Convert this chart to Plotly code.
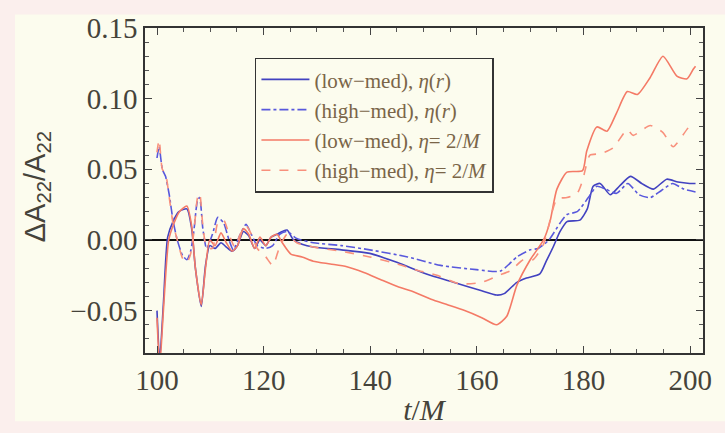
import plotly.graph_objects as go

# ---------------- data ----------------
t_bs = [100, 100.5, 101.2, 102.0, 103.0, 104.1, 105.6, 106.5, 107.2, 108.3, 109.1, 109.9, 110.9, 112.0, 113.0,
        114.1, 115.1, 116.2, 117.2, 118.3, 119.3, 120.4, 121.4, 122.5, 123.5, 124.4, 125.6, 127.2, 129.3, 134.6,
        139.9, 145.1, 150.4, 155.6, 160.9, 163.7, 165.1, 167.5, 169.3, 171.8, 173.0, 174.3, 175.6, 176.9, 179.3,
        180.7, 181.8, 183.1, 185.0, 186.7, 188.8, 190.9, 193.1, 195.6, 197.7, 199.9, 201.0]
v_bs = [-0.05, -0.085, -0.045, 0.002, 0.013, 0.02, 0.022, 0.008, -0.02, -0.047, -0.018, -0.004, -0.006, -0.002,
        -0.005, -0.008, -0.004, 0.006, 0.003, -0.006, 0.0, -0.004, 0.002, 0.004, 0.006, 0.007, 0.0, -0.003,
        -0.005, -0.007, -0.0095, -0.016, -0.024, -0.03, -0.036, -0.039, -0.038, -0.03, -0.027, -0.024, -0.015,
        -0.005, 0.006, 0.013, 0.014, 0.022, 0.038, 0.040, 0.032, 0.038, 0.045, 0.040, 0.036, 0.043, 0.041,
        0.040, 0.040]

t_bd = [100, 100.4, 101.0, 101.6, 102.3, 103.0, 103.8, 104.8, 105.6, 106.3, 106.9, 107.6, 108.0, 108.6, 109.3,
        110.4, 111.4, 112.5, 113.5, 114.3, 115.6, 116.7, 117.7, 118.8, 120.4, 121.7, 123.0, 124.4, 126.2, 129.3,
        134.6, 139.9, 147.0, 153.2, 159.9, 164.4, 167.5, 170.0, 171.5, 173.5, 175.6, 176.9, 178.8, 180.9, 182.5,
        184.1, 186.2, 188.3, 190.4, 192.5, 194.6, 196.7, 198.8, 201.0]
v_bd = [0.058, 0.066, 0.05, 0.045, 0.032, 0.014, 0.0, -0.011, -0.014, -0.008, 0.006, 0.028, 0.03, 0.008, -0.006,
        0.004, 0.016, 0.012, 0.0, -0.007, 0.004, 0.011, 0.004, -0.004, -0.006, -0.004, 0.004, 0.006, 0.001,
        -0.002, -0.004, -0.007, -0.012, -0.018, -0.021, -0.022, -0.012, -0.007, -0.006, 0.0, 0.012, 0.018,
        0.02, 0.03, 0.038, 0.036, 0.033, 0.04, 0.032, 0.03, 0.035, 0.04, 0.036, 0.034]

t_rs = [100, 100.5, 101.2, 102.2, 103.2, 104.2, 105.6, 106.5, 107.2, 108.3, 109.1, 109.9, 110.9, 112.0, 113.0,
        114.1, 115.1, 116.2, 117.2, 118.3, 119.3, 120.4, 121.4, 122.5, 123.5, 125.1, 127.2, 129.3, 132.5, 135.6,
        138.8, 141.9, 145.1, 148.3, 151.4, 154.6, 157.7, 160.9, 163.7, 165.6, 167.5, 170.0, 172.5, 173.7, 175.0,
        176.9, 179.8, 180.6, 182.5, 184.4, 186.2, 188.2, 190.1, 192.5, 194.9, 197.5, 199.4, 200.6, 201.0]
v_rs = [-0.055, -0.09, -0.05, 0.0, 0.012, 0.02, 0.024, 0.01, -0.02, -0.046, -0.02, 0.0, -0.004, 0.005, -0.002,
        -0.008, -0.004, 0.008, 0.004, -0.006, 0.002, -0.004, 0.002, 0.004, -0.002, -0.01, -0.012, -0.015,
        -0.017, -0.019, -0.023, -0.028, -0.033, -0.037, -0.042, -0.046, -0.05, -0.055, -0.06, -0.054, -0.032,
        -0.014, 0.0, 0.013, 0.036, 0.048, 0.049, 0.063, 0.08, 0.077, 0.09, 0.105, 0.103, 0.115, 0.13, 0.116,
        0.114, 0.121, 0.123]

t_rd = [100, 100.4, 101.0, 101.6, 102.3, 103.0, 103.8, 104.8, 105.6, 106.3, 106.9, 107.6, 108.0, 108.6, 109.3,
        110.4, 111.4, 112.5, 113.5, 114.6, 115.6, 116.7, 117.7, 118.8, 120.4, 121.7, 123.0, 124.4, 126.2, 129.3,
        134.6, 139.9, 145.1, 148.3, 152.5, 156.7, 160.9, 164.1, 166.2, 168.7, 170.5, 172.5, 175.0, 176.9, 178.8,
        179.8, 181.2, 183.1, 185.5, 188.2, 189.3, 192.5, 194.9, 196.8, 200.0, 201.0]
v_rd = [0.062, 0.071, 0.05, 0.047, 0.03, 0.012, 0.0, -0.013, -0.016, -0.01, 0.005, 0.03, 0.033, 0.01, -0.005,
        -0.006, 0.012, 0.014, 0.004, -0.005, 0.004, 0.01, 0.004, -0.006, -0.012, -0.018, -0.005, 0.004, -0.002,
        -0.005, -0.008, -0.012, -0.017, -0.021, -0.025, -0.031, -0.03, -0.025, -0.022, -0.014, -0.014, -0.003,
        0.029, 0.030, 0.033, 0.042, 0.06, 0.061, 0.065, 0.078, 0.074, 0.081, 0.076, 0.066, 0.081, 0.082]

names = ["(low\u2212med), <i>\u03b7</i>(<i>r</i>)",
         "(high\u2212med), <i>\u03b7</i>(<i>r</i>)",
         "(low\u2212med), <i>\u03b7</i>= 2/<i>M</i>",
         "(high\u2212med), <i>\u03b7</i>= 2/<i>M</i>"]

x_ticks = [100, 120, 140, 160, 180, 200]
y_ticks = [-0.05, 0.0, 0.05, 0.10, 0.15]
y_tick_text = ["\u22120.05", "0.00", "0.05", "0.10", "0.15"]
y_title = "\u0394A<sub>22</sub>/A<sub>22</sub>"
x_title = "<i>t</i>/<i>M</i>"

# ---------------- figure ----------------
PINK = "#fbefed"
CREAM = "#fcfcee"
TXT = "#45433a"

fig = go.Figure()
series = [
    (t_bs, v_bs, "#4242c0", "solid"),
    (t_bd, v_bd, "#5858dc", "dashdot"),
    (t_rs, v_rs, "#f47a66", "solid"),
    (t_rd, v_rd, "#f8907c", "dash"),
]
for i, (tt, vv, col, dash) in enumerate(series):
    fig.add_trace(go.Scatter(x=tt, y=vv, mode="lines", name=names[i], legendgroup=f"g{i}",
                             line=dict(color=col, width=1.6, dash=dash, shape="spline", smoothing=0.6)))

axis_common = dict(showline=True, linecolor="#333333", linewidth=1.5, mirror="allticks",
                   ticks="inside", tickcolor="#444444", ticklen=7, tickwidth=1,
                   showgrid=False, ticklabeloverflow="allow",
                   tickfont=dict(family="Liberation Serif", size=29, color=TXT))

fig.update_xaxes(range=[97.75, 202.4], tickvals=x_ticks, zeroline=False,
                 minor=dict(ticks="inside", tick0=100, dtick=5, ticklen=4, tickcolor="#555555", showgrid=False),
                 title=dict(text=x_title, font=dict(family="Liberation Serif", size=30, color=TXT),
                            standoff=4),
                 **axis_common)
fig.update_yaxes(range=[-0.08, 0.15], tickvals=y_ticks, ticktext=y_tick_text,
                 zeroline=True, zerolinecolor="#111111", zerolinewidth=1.5,
                 minor=dict(ticks="inside", dtick=0.01, ticklen=4, tickcolor="#555555", showgrid=False),
                 **axis_common)

fig.add_annotation(text=y_title, xref="paper", yref="paper", x=-0.1935, y=0.51,
                   xanchor="center", yanchor="middle", textangle=-90, showarrow=False,
                   font=dict(family="Liberation Sans", size=29, color=TXT))

fig.add_shape(type="rect", xref="paper", yref="paper", x0=-0.233, x1=1.05, y0=-0.21, y1=1.0413,
              fillcolor=CREAM, line=dict(width=0), layer="below")

fig.update_layout(
    width=725, height=433,
    margin=dict(l=145, r=22, t=24, b=70),
    paper_bgcolor=PINK, plot_bgcolor=CREAM,
    showlegend=True,
    legend=dict(x=0.197, y=0.9086, xanchor="left", yanchor="top",
                bgcolor=CREAM, bordercolor="#333333", borderwidth=1.5,
                font=dict(family="Liberation Serif", size=21, color="#7a6548"),
                tracegroupgap=1, traceorder="normal", itemwidth=48),
)

fig.write_html("out.html")
